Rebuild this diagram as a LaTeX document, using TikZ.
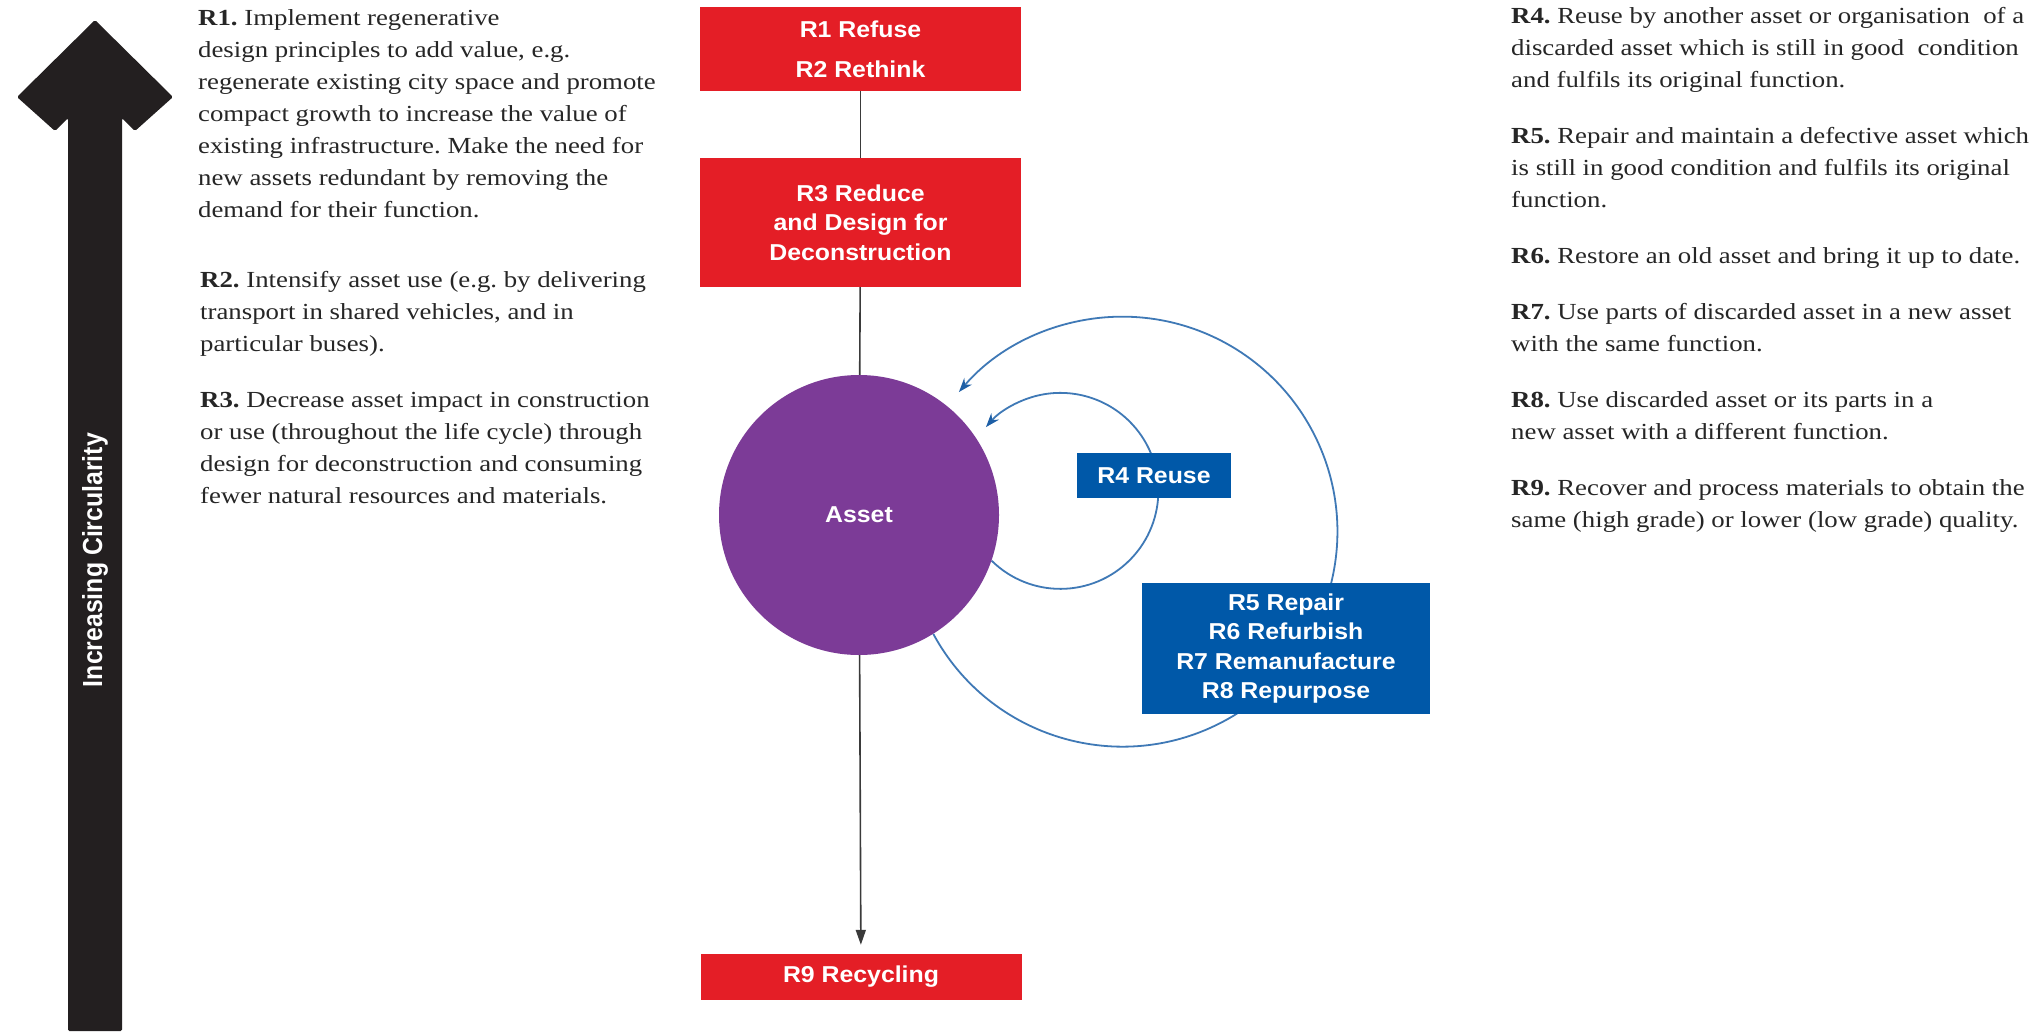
\documentclass[tikz,border=0pt]{standalone}
\usepackage{fontspec}
\usepackage{graphicx}
\setmainfont{Liberation Serif}[FakeStretch=1.165]
\newfontfamily\boxfont{Liberation Sans}[FakeStretch=1.08]
\usetikzlibrary{arrows.meta,calc,backgrounds}
\definecolor{rred}{HTML}{E41E26}
\definecolor{rblue}{HTML}{0058A8}
\definecolor{rpurple}{HTML}{7C3B97}
\definecolor{loopblue}{HTML}{3F79B6}
\definecolor{tipblue}{HTML}{1D5FA6}
\definecolor{stem}{HTML}{3A3A3A}
\definecolor{txt}{HTML}{262626}
\definecolor{bar}{HTML}{231F20}

\begin{document}
\begin{tikzpicture}[x=1pt,y=1pt,
  para/.style={anchor=north west, inner sep=0pt, align=left, text=txt,
    font=\fontsize{23}{32}\selectfont\frenchspacing},
  boxtext/.style={text=white, inner sep=0pt, align=center,
    font=\boxfont\bfseries\fontsize{23}{29.5}\selectfont},
  rbox/.style={boxtext, fill=rred, minimum width=321pt},
  bbox/.style={boxtext, fill=rblue},
  stemline/.style={draw=stem, line width=1.6pt},
  loopline/.style={draw=loopblue, line width=1.8pt,
    -{Stealth[length=14pt,width=10pt,color=tipblue]}},
]
\useasboundingbox (0,0) rectangle (2034,-1031);

% the "increasing circularity" axis arrow
\fill[bar, rounded corners=1.5pt] (68,-1031) -- (68,-118) -- (55,-131) -- (17,-97)
  -- (95,-20) -- (173,-97) -- (135,-131) -- (122,-118) -- (122,-1031) -- cycle;
\node[rotate=90, text=white, inner sep=0pt,
  font=\boxfont\bfseries\fontsize{23}{28}\selectfont] (axis) at (95,-560)
  {\scalebox{1}[1.2]{Increasing Circularity}};

% left descriptions
\node[para] (t1) at (198,-2.6) {\strut\textbf{R1.} Implement regenerative\\
\strut design principles to add value, e.g.\\
\strut regenerate existing city space and promote\\
\strut compact growth to increase the value of\\
\strut existing infrastructure. Make the need for\\
\strut new assets redundant by removing the\\
\strut demand for their function.};
\node[para] (t2) at (200,-264.6) {\strut\textbf{R2.} Intensify asset use (e.g. by delivering\\
\strut transport in shared vehicles, and in\\
\strut particular buses).};
\node[para] (t3) at (200,-384.6) {\strut\textbf{R3.} Decrease asset impact in construction\\
\strut or use (throughout the life cycle) through\\
\strut design for deconstruction and consuming\\
\strut fewer natural resources and materials.};

% right descriptions
\node[para] (t4) at (1511,-0.6) {\strut\textbf{R4.} Reuse by another asset or organisation\ \ of a\\
\strut discarded asset which is still in good\ \ condition\\
\strut and fulfils its original function.};
\node[para] (t5) at (1511,-120.6) {\strut\textbf{R5.} Repair and maintain a defective asset which\\
\strut is still in good condition and fulfils its original\\
\strut function.};
\node[para] (t6) at (1511,-240.6) {\strut\textbf{R6.} Restore an old asset and bring it up to date.};
\node[para] (t7) at (1511,-296.6) {\strut\textbf{R7.} Use parts of discarded asset in a new asset\\
\strut with the same function.};
\node[para] (t8) at (1511,-384.6) {\strut\textbf{R8.} Use discarded asset or its parts in a\\
\strut new asset with a different function.};
\node[para] (t9) at (1511,-472.6) {\strut\textbf{R9.} Recover and process materials to obtain the\\
\strut same (high grade) or lower (low grade) quality.};

% central column
\node[rbox, minimum height=84pt, font=\boxfont\bfseries\fontsize{23}{40}\selectfont]
  (r12) at (860.5,-49) {R1 Refuse\\R2 Rethink};
\node[rbox, minimum height=129pt] (r3) at (860.5,-222.5)
  {R3 Reduce\\and Design for\\Deconstruction};
\node[circle, fill=rpurple, minimum size=280pt, inner sep=0pt, text=white,
  font=\boxfont\bfseries\fontsize{23}{28}\selectfont] (asset) at (859,-515) {Asset};
\node[rbox, minimum height=46pt] (r9) at (861,-977) {R9 Recycling};

\draw[stemline] (r12) -- (r3);
\draw[stemline] (r3) -- (asset);
\draw[stemline, -{Triangle[length=15pt,width=10pt]}, shorten >=9pt] (asset) -- (r9);

% loops back into the asset, passing behind the blue boxes
\node[bbox, minimum width=154pt, minimum height=45pt] (r4) at (1154,-475.5) {R4 Reuse};
\node[bbox, minimum width=288pt, minimum height=131pt] (r58) at (1286,-648.5)
  {R5 Repair\\R6 Refurbish\\R7 Remanufacture\\R8 Repurpose};
\begin{pgfonlayer}{background}
  \fill[white] (0,0) rectangle (2034,-1031);
  \draw[loopline] (asset.-19.6) arc[start angle=-134.6, end angle=139.4, radius=98];
  \draw[loopline] (asset.-58.4) arc[start angle=-151.6, end angle=139.5, radius=215];
\end{pgfonlayer}
\end{tikzpicture}
\end{document}
